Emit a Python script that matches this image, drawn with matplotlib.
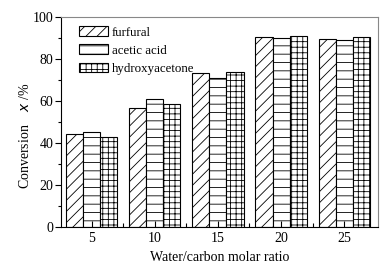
import numpy as np
import matplotlib.pyplot as plt
from matplotlib.ticker import MultipleLocator

ratio = [5, 10, 15, 20, 25]
furfural = [44.3, 56.8, 73.5, 90.5, 89.4]
acetic_acid = [45.2, 60.8, 71.0, 90.0, 89.2]
hydroxyacetone = [43.0, 58.4, 73.8, 91.0, 90.4]

series = [("furfural", furfural, "///"),
          ("acetic acid", acetic_acid, "--"),
          ("hydroxyacetone", hydroxyacetone, "+++")]

plt.rcParams['font.family'] = ['Liberation Serif', 'DejaVu Serif']
plt.rcParams['hatch.linewidth'] = 0.6

fig = plt.figure(figsize=(3.91, 2.65), dpi=100)
ax = fig.add_axes([0.156, 0.143, 0.811, 0.793])

x = np.array(ratio, dtype=float)
w = 1.35
for i, (name, vals, hatch) in enumerate(series):
    ax.bar(x + (i - 1) * w, vals, width=w, facecolor='white', edgecolor='black',
           linewidth=0.8, hatch=hatch, label=name)

ax.set_xlim(2.55, 27.7)
ax.set_ylim(0, 100)
ax.set_xticks(ratio)
ax.set_xticks([7.5, 12.5, 17.5, 22.5], minor=True)
ax.yaxis.set_major_locator(MultipleLocator(20))
ax.yaxis.set_minor_locator(MultipleLocator(10))
ax.tick_params(axis='x', which='both', direction='in', labelsize=10, length=4, width=0.8)
ax.tick_params(axis='x', which='minor', length=3)
ax.tick_params(axis='y', which='major', direction='out', labelsize=10, length=4,
               width=0.8, pad=1.5)
ax.tick_params(axis='y', which='minor', direction='out', length=2.5, width=0.8)

for s in ['top', 'right']:
    ax.spines[s].set_color('#888888')
    ax.spines[s].set_linewidth(0.8)
for s in ['left', 'bottom']:
    ax.spines[s].set_linewidth(0.8)

ax.set_xlabel("Water/carbon molar ratio", fontsize=10, labelpad=4)
ax.set_ylabel("Conversion    $\\it{x}$ /%", fontsize=10)
ax.yaxis.set_label_coords(-0.093, 0.433)

ax.legend(loc='upper left', frameon=False, fontsize=9.3, handlelength=2.2,
          handleheight=0.8, labelspacing=0.45, borderaxespad=0.0,
          bbox_to_anchor=(0.045, 0.975), handletextpad=0.35, borderpad=0.3)

fig.savefig("out.png", dpi=100)
